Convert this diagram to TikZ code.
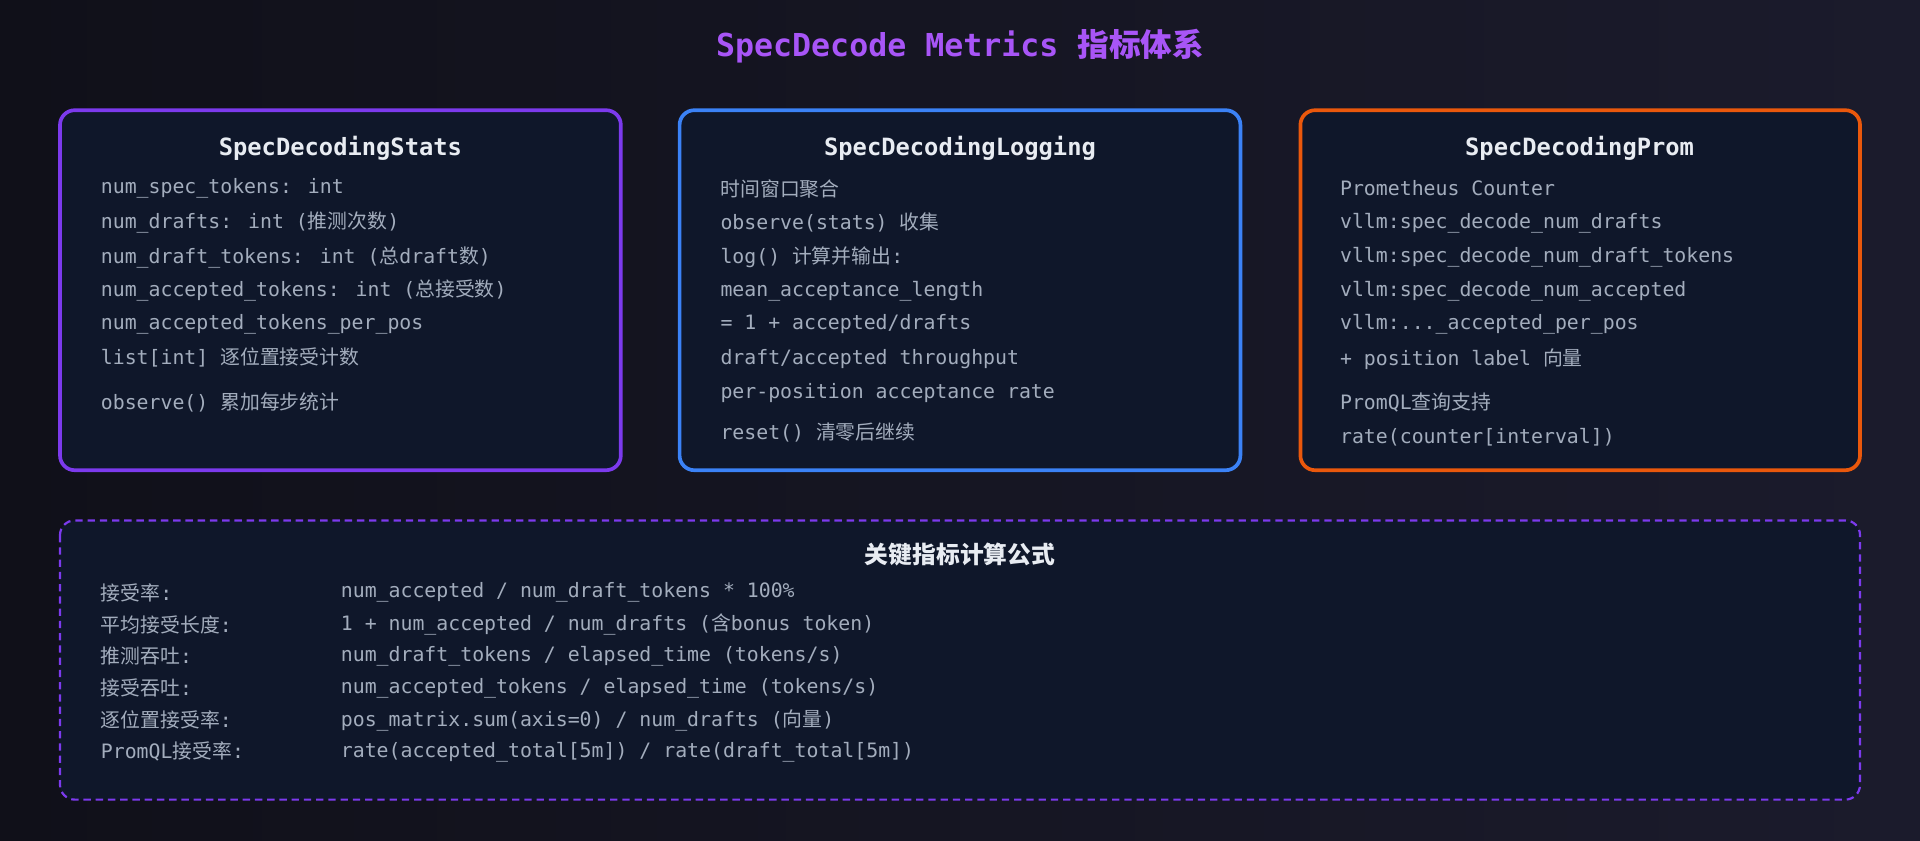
\documentclass[tikz,border=0pt]{standalone}
\usepackage{fontspec}
\setmainfont{DejaVu Sans Mono}
\setmonofont{DejaVu Sans Mono}
\newfontfamily\cjk{Noto Sans CJK SC}
\newcommand\zh[1]{{\cjk #1}}
\usetikzlibrary{positioning}
\definecolor{bgA}{HTML}{101019}
\definecolor{bgB}{HTML}{1B1B2C}
\definecolor{boxfill}{HTML}{0F172A}
\definecolor{purpleline}{HTML}{7C3AED}
\definecolor{blueline}{HTML}{3B82F6}
\definecolor{orangeline}{HTML}{EA580C}
\definecolor{titlecol}{HTML}{A855F7}
\definecolor{textcol}{HTML}{A3ADBD}
\definecolor{headcol}{HTML}{E8ECF2}
\begin{document}
\begin{tikzpicture}[x=0.5pt,y=-0.5pt,
    card/.style = {rounded corners=6pt, line width=1.5pt, fill=boxfill},
    head/.style = {text=headcol, font=\fontsize{9.7}{11}\selectfont\bfseries},
    item/.style = {anchor=west, text=textcol, inner sep=0pt, font=\fontsize{8.1}{10}\selectfont}]
    \shade[left color=bgA, right color=bgB] (0,0) rectangle (1568,686);
    \useasboundingbox (0,0) rectangle (1568,686);
    \node[text=titlecol, font=\fontsize{12.9}{14}\selectfont\bfseries] (title) at (784,38)
        {SpecDecode Metrics \zh{指标体系}};
    % three cards
    \draw[card, draw=purpleline] (49,90) rectangle (507,384);
    \draw[card, draw=blueline] (555,90) rectangle (1013,384);
    \draw[card, draw=orangeline] (1062,90) rectangle (1519,384);
    \node[head] (stats) at (278,121) {SpecDecodingStats};
    \node[head] (logging) at (784,121) {SpecDecodingLogging};
    \node[head] (prom) at (1290,121) {SpecDecodingProm};
    \foreach \y/\t [count=\i] in {154/{num\_spec\_tokens: int},
        182/{num\_drafts: int (\zh{推测次数})},
        210/{num\_draft\_tokens: int (\zh{总}draft\zh{数})},
        237/{num\_accepted\_tokens: int (\zh{总接受数})},
        265/{num\_accepted\_tokens\_per\_pos},
        292/{list[int] \zh{逐位置接受计数}},
        329/{observe() \zh{累加每步统计}}}
        \node[item] (s\i) at (82,\y) {\t};
    \foreach \y/\t [count=\i] in {154/{\zh{时间窗口聚合}},
        182/{observe(stats) \zh{收集}},
        210/{log() \zh{计算并输出}:},
        238/{mean\_acceptance\_length},
        265/{= 1 + accepted/drafts},
        293/{draft/accepted throughput},
        321/{per-position acceptance rate},
        353/{reset() \zh{清零后继续}}}
        \node[item] (g\i) at (588,\y) {\t};
    \foreach \y/\t [count=\i] in {154/{Prometheus Counter},
        182/{vllm:spec\_decode\_num\_drafts},
        210/{vllm:spec\_decode\_num\_draft\_tokens},
        238/{vllm:spec\_decode\_num\_accepted},
        265/{vllm:...\_accepted\_per\_pos},
        293/{+ position label \zh{向量}},
        329/{PromQL\zh{查询支持}},
        357/{rate(counter[interval])}}
        \node[item] (p\i) at (1094,\y) {\t};
    % formula panel
    \draw[rounded corners=6pt, line width=0.9pt, draw=purpleline, dash pattern=on 3pt off 2pt, fill=boxfill]
        (49,425) rectangle (1519,653);
    \node[head] (formula) at (784,453) {\zh{关键指标计算公式}};
    \foreach \y/\k/\v [count=\i] in {484/{\zh{接受率}:}/{num\_accepted / num\_draft\_tokens * 100\%},
        510/{\zh{平均接受长度}:}/{1 + num\_accepted / num\_drafts (\zh{含}bonus token)},
        536/{\zh{推测吞吐}:}/{num\_draft\_tokens / elapsed\_time (tokens/s)},
        562/{\zh{接受吞吐}:}/{num\_accepted\_tokens / elapsed\_time (tokens/s)},
        588/{\zh{逐位置接受率}:}/{pos\_matrix.sum(axis=0) / num\_drafts (\zh{向量})},
        614/{PromQL\zh{接受率}:}/{rate(accepted\_total[5m]) / rate(draft\_total[5m])}}
        {\node[item] (k\i) at (82,\y) {\k};
         \node[item] (v\i) at (278,\y) {\v};}
\end{tikzpicture}
\end{document}
